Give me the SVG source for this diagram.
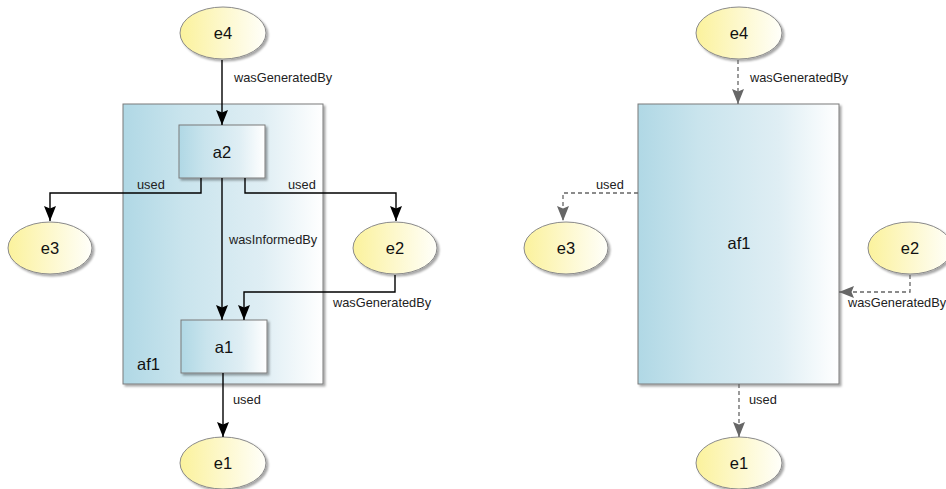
<svg xmlns="http://www.w3.org/2000/svg" width="946" height="489" viewBox="0 0 946 489">
<style>
.ent{fill:url(#gE);stroke:#8a8a8a;stroke-width:1;filter:url(#sh)}
.act{fill:url(#gA);stroke:#7a7a7a;stroke-width:1;filter:url(#sh)}
.nl{font-family:"Liberation Sans",Arial,sans-serif;font-size:16.5px;fill:#111;text-anchor:middle}
.el{font-family:"Liberation Sans",Arial,sans-serif;font-size:12.8px;fill:#222}
.solid{fill:none;stroke:#000;stroke-width:1.4;marker-end:url(#ah)}
.dash{fill:none;stroke:#666;stroke-width:1.3;stroke-dasharray:4 3;marker-end:url(#ahg)}
</style>
<defs>
<linearGradient id="gE" x1="0" y1="0" x2="1" y2="0">
<stop offset="0" stop-color="#fbf29c"/>
<stop offset="0.5" stop-color="#fdf8cc"/>
<stop offset="1" stop-color="#fffffa"/>
</linearGradient>
<linearGradient id="gA" x1="0" y1="0" x2="1" y2="0">
<stop offset="0" stop-color="#b0d8e5"/>
<stop offset="0.3" stop-color="#c9e4ed"/>
<stop offset="0.7" stop-color="#dfeef4"/>
<stop offset="1" stop-color="#ffffff"/>
</linearGradient>
<filter id="sh" x="-10%" y="-10%" width="125%" height="125%">
<feDropShadow dx="2" dy="2" stdDeviation="1.2" flood-color="#000" flood-opacity="0.35"/>
</filter>
<marker id="ah" markerWidth="15" markerHeight="12" refX="15" refY="6" orient="auto" markerUnits="userSpaceOnUse" viewBox="0 0 15 12">
<path d="M0,0 L15,6 L0,12 L2.5,6 Z" fill="#000"/>
</marker>
<marker id="ahg" markerWidth="15" markerHeight="12" refX="15" refY="6" orient="auto" markerUnits="userSpaceOnUse" viewBox="0 0 15 12">
<path d="M0,0 L15,6 L0,12 L2.5,6 Z" fill="#666"/>
</marker>
</defs>

<!-- Left diagram -->
<g id="L_af1">
<rect class="act" x="123" y="104" width="200" height="280"/>
<text class="nl" x="137" y="370" style="text-anchor:start">af1</text>
</g>
<g id="L_a2">
<rect class="act" x="179" y="125" width="86" height="53"/>
<text class="nl" x="222" y="158">a2</text>
</g>
<g id="L_a1">
<rect class="act" x="181" y="320" width="86" height="53"/>
<text class="nl" x="224" y="353">a1</text>
</g>
<g id="L_e4">
<ellipse class="ent" cx="223" cy="33" rx="43" ry="26"/>
<text class="nl" x="223" y="39">e4</text>
</g>
<g id="L_e3">
<ellipse class="ent" cx="50" cy="248" rx="42" ry="26"/>
<text class="nl" x="50" y="254">e3</text>
</g>
<g id="L_e2">
<ellipse class="ent" cx="395" cy="248" rx="42" ry="26"/>
<text class="nl" x="395" y="254">e2</text>
</g>
<g id="L_e1">
<ellipse class="ent" cx="223" cy="463" rx="43" ry="26"/>
<text class="nl" x="223" y="469">e1</text>
</g>

<!-- Right diagram -->
<g id="R_af1">
<rect class="act" x="638" y="104" width="201" height="280"/>
<text class="nl" x="739" y="249">af1</text>
</g>
<g id="R_e4">
<ellipse class="ent" cx="739" cy="33" rx="43" ry="26"/>
<text class="nl" x="739" y="39">e4</text>
</g>
<g id="R_e3">
<ellipse class="ent" cx="566" cy="248" rx="42" ry="26"/>
<text class="nl" x="566" y="254">e3</text>
</g>
<g id="R_e2">
<ellipse class="ent" cx="910" cy="248" rx="42" ry="26"/>
<text class="nl" x="910" y="254">e2</text>
</g>
<g id="R_e1">
<ellipse class="ent" cx="739" cy="463" rx="43" ry="26"/>
<text class="nl" x="739" y="469">e1</text>
</g>

<g id="connectors">
<path class="solid" d="M222,60 L222,125"/>
<text class="el" x="234" y="82">wasGeneratedBy</text>
<path class="solid" d="M201,178 L201,193 L50,193 L50,221"/>
<text class="el" x="137" y="189">used</text>
<path class="solid" d="M245,178 L245,193 L396,193 L396,221"/>
<text class="el" x="288" y="189">used</text>
<path class="solid" d="M222,178 L222,320"/>
<text class="el" x="229" y="244">wasInformedBy</text>
<path class="solid" d="M395,275 L395,292 L244,292 L244,320"/>
<text class="el" x="333" y="307">wasGeneratedBy</text>
<path class="solid" d="M223,373 L223,437"/>
<text class="el" x="233" y="404">used</text>

<path class="dash" d="M738,60 L738,104"/>
<text class="el" x="750" y="82">wasGeneratedBy</text>
<path class="dash" d="M638,193 L563,193 L563,221"/>
<text class="el" x="596" y="189">used</text>
<path class="dash" d="M910,275 L910,292 L839,292"/>
<text class="el" x="848" y="307">wasGeneratedBy</text>
<path class="dash" d="M739,384 L739,437"/>
<text class="el" x="749" y="404">used</text>
</g>
</svg>
